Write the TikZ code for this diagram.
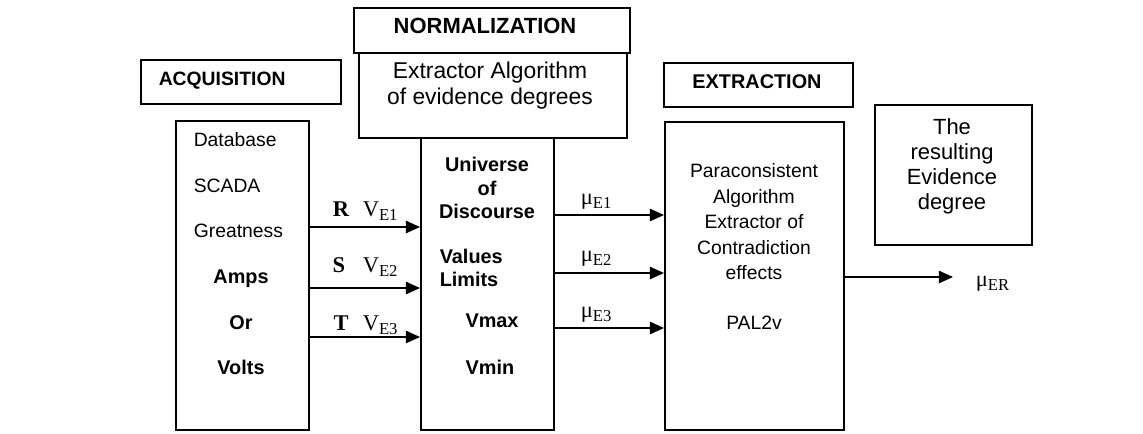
\documentclass[tikz,border=0pt]{standalone}
\usepackage{fontspec}
\setmainfont{Liberation Sans}
\newfontfamily\timesfont{Liberation Serif}
\usetikzlibrary{arrows.meta}

% lowered index in serif labels
\newcommand{\lowidx}[1]{\raisebox{-0.45ex}{\fontsize{9.5}{10}\selectfont #1}}

\begin{document}
\begin{tikzpicture}[x=0.02cm,y=-0.02cm,
  line width=0.9pt,
  box node/.style={rectangle,draw,inner sep=0pt,anchor=north west},
  title node/.style={font=\fontsize{11}{13}\selectfont\bfseries,inner sep=0pt,anchor=mid},
  item node/.style={font=\fontsize{11}{13}\selectfont,inner sep=0pt,anchor=mid west},
  bold node/.style={font=\fontsize{11.3}{13.5}\selectfont\bfseries,inner sep=0pt},
  sig node/.style={font=\timesfont\fontsize{12.8}{14}\selectfont,inner sep=0pt},
  arr/.style={-{Triangle[length=8pt,width=7pt]}}]

  % boxes
  \node[box node,minimum width=4cm,minimum height=0.88cm] (acqt) at (140,59) {};
  \node[box node,minimum width=2.66cm,minimum height=6.18cm] (acq) at (175,120) {};
  \node[box node,minimum width=5.52cm,minimum height=0.9cm] (normt) at (353,7) {};
  \node[box node,minimum width=5.36cm,minimum height=1.7cm] (normtop) at (358,52) {};
  \node[box node,minimum width=2.66cm,minimum height=5.84cm] (normcol) at (420,137) {};
  \node[box node,minimum width=3.78cm,minimum height=0.88cm] (ext) at (663,62) {};
  \node[box node,minimum width=3.58cm,minimum height=6.16cm] (ex) at (664,121) {};
  \node[box node,minimum width=3.14cm,minimum height=2.8cm] (res) at (874,104) {};

  % titles
  \node[title node,anchor=mid west] (acqlab) at (158,81) {ACQUISITION};
  \node[title node,font=\fontsize{12.5}{14}\selectfont\bfseries] (normlab) at (485,29) {NORMALIZATION};
  \node[title node,font=\fontsize{11.3}{13}\selectfont\bfseries] (extlab) at (757,84) {EXTRACTION};

  % acquisition items
  \node[item node] (db) at (193,142) {Database};
  \node[item node] (scada) at (193,188) {SCADA};
  \node[item node] (great) at (193,233) {Greatness};
  \node[bold node,anchor=mid] (amps) at (241,279) {Amps};
  \node[bold node,anchor=mid] (or) at (241,325) {Or};
  \node[bold node,anchor=mid] (volts) at (241,370) {Volts};

  % normalization texts
  \node[font=\fontsize{13}{14.7}\selectfont,align=center,inner sep=0pt] (alg) at (490,86)
    {Extractor Algorithm\\of evidence degrees};
  \node[bold node,align=center] (univ) at (487,188) {Universe\\of\\Discourse};
  \node[bold node,align=left,anchor=west] (lim) at (439,268) {Values\\Limits};
  \node[bold node,anchor=mid] (vmax) at (492,323) {Vmax};
  \node[bold node,anchor=mid] (vmin) at (490,370) {Vmin};

  % extraction texts
  \node[font=\fontsize{11}{14.5}\selectfont,align=center,inner sep=0pt] (para) at (754,222)
    {Paraconsistent\\Algorithm\\Extractor of\\Contradiction\\effects};
  \node[font=\fontsize{11}{13}\selectfont,inner sep=0pt,anchor=mid] (pal) at (754,325) {PAL2v};
  \node[font=\fontsize{12.5}{14.2}\selectfont,align=center,inner sep=0pt] (restxt) at (952,166)
    {The\\resulting\\Evidence\\degree};

  % signal rows
  \coordinate (r) at (0,227);
  \coordinate (s) at (0,288);
  \coordinate (t) at (0,337);
  \coordinate (m1) at (0,215);
  \coordinate (m2) at (0,273);
  \coordinate (m3) at (0,328);
  \coordinate (mr) at (953,277);

  \draw[arr] (acq.east |- r) -- (normcol.west |- r);
  \draw[arr] (acq.east |- s) -- (normcol.west |- s);
  \draw[arr] (acq.east |- t) -- (normcol.west |- t);
  \draw[arr] (normcol.east |- m1) -- (ex.west |- m1);
  \draw[arr] (normcol.east |- m2) -- (ex.west |- m2);
  \draw[arr] (normcol.east |- m3) -- (ex.west |- m3);
  \draw[arr] (ex.east |- mr) -- (mr);

  % signal labels
  \node[sig node,anchor=base] (rl) at (341,216) {\textbf{R}};
  \node[sig node,anchor=base] (sl) at (339,272) {\textbf{S}};
  \node[sig node,anchor=base] (tl) at (341,330) {\textbf{T}};
  \node[sig node,anchor=base west] (v1) at (362,216) {V\lowidx{E1}};
  \node[sig node,anchor=base west] (v2) at (362,272) {V\lowidx{E2}};
  \node[sig node,anchor=base west] (v3) at (362,330) {V\lowidx{E3}};
  \node[sig node,anchor=base west] (mu1) at (580,204) {μ\lowidx{E1}};
  \node[sig node,anchor=base west] (mu2) at (580,261) {μ\lowidx{E2}};
  \node[sig node,anchor=base west] (mu3) at (580,317) {μ\lowidx{E3}};
  \node[sig node,anchor=base west] (mur) at (975,286) {μ\lowidx{ER}};

  \useasboundingbox (0,0) rectangle (1143,433);
\end{tikzpicture}
\end{document}
